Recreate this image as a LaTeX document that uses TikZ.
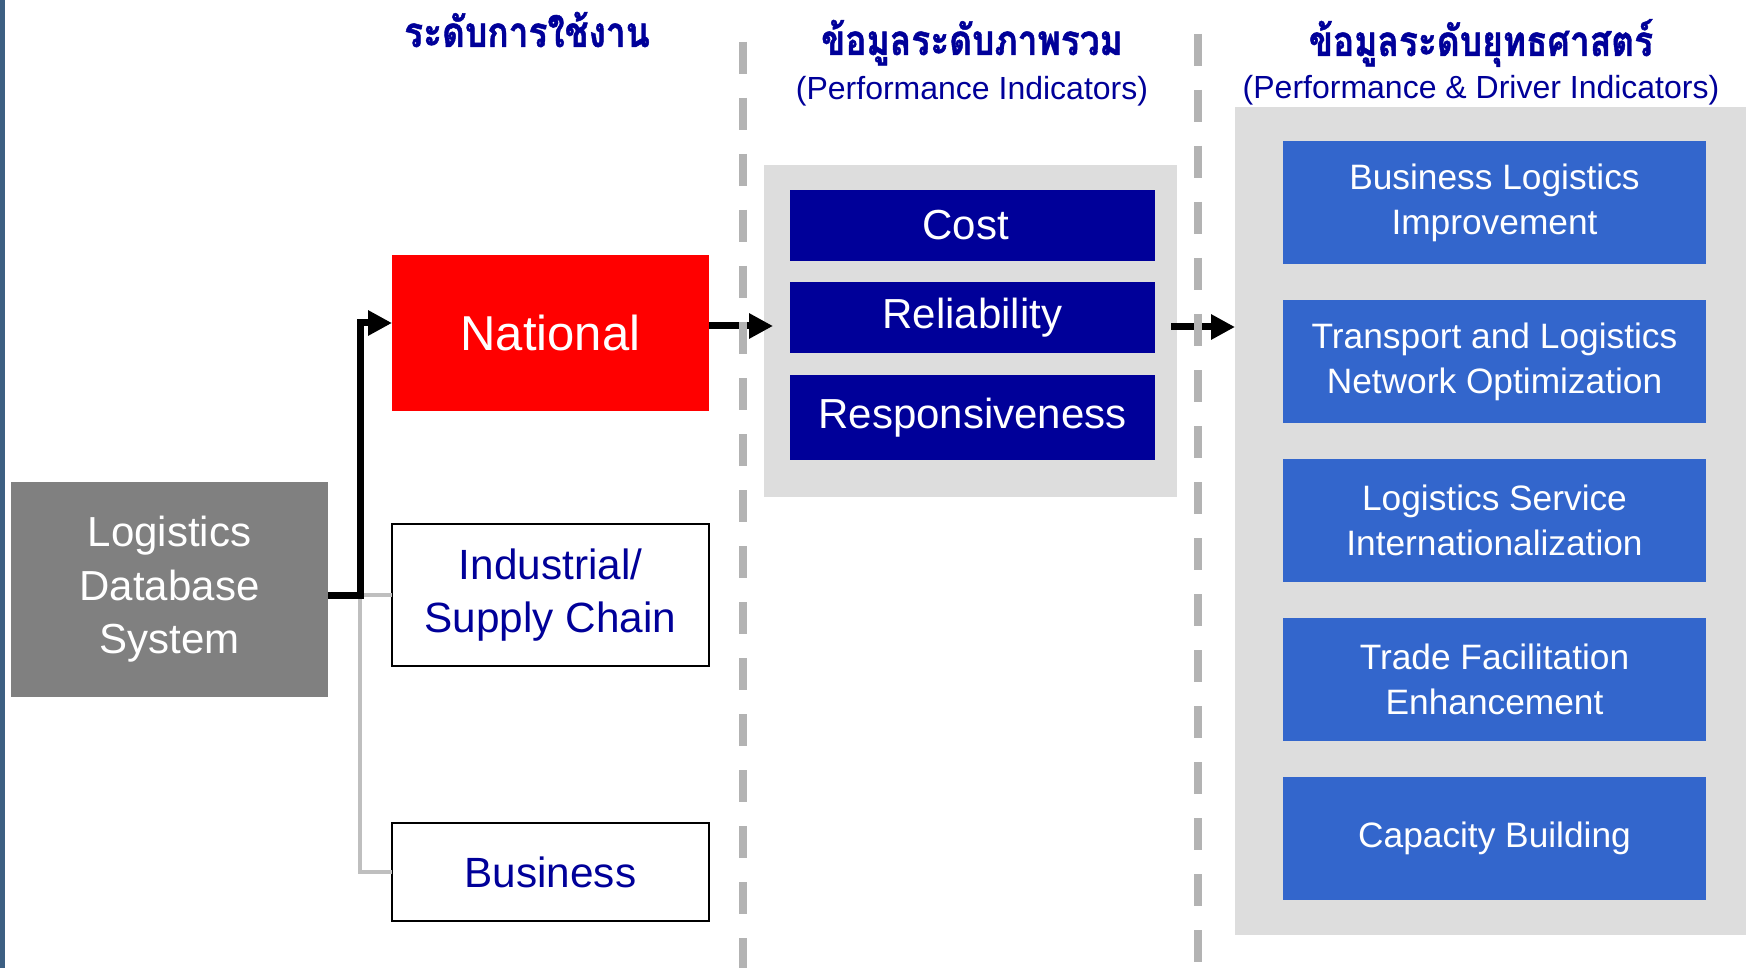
\documentclass[tikz,border=0pt]{standalone}
\usepackage{graphicx}
\usepackage{fontspec}
\setmainfont{Liberation Sans}
\newfontfamily\thaifont[Script=Thai, BoldFeatures={FakeBold=1.2}]{Loma}
\usetikzlibrary{arrows.meta,calc}

\definecolor{navy}{HTML}{000099}
\definecolor{panelgray}{HTML}{DDDDDD}
\definecolor{dbgray}{HTML}{808080}
\definecolor{boxblue}{HTML}{3366CC}
\definecolor{dashgray}{HTML}{B3B3B3}
\definecolor{linkgray}{HTML}{BFBFBF}
\definecolor{edgeblue}{HTML}{3C5F82}

% condensed heavy Thai heading
\newcommand{\thaihd}[1]{\scalebox{0.84}[1]{#1}}

\begin{document}
\begin{tikzpicture}[x=1pt,y=-1pt,
  box/.style={rectangle, inner sep=0pt, outer sep=0pt, align=center},
  dbbox/.style={box, fill=dbgray, text=white, minimum width=317pt, minimum height=215pt,
    font=\fontsize{42}{53.5}\selectfont},
  levelbox/.style={box, fill=white, draw=black, line width=1.5pt, text=navy,
    minimum width=317pt, font=\fontsize{42.3}{53.5}\selectfont},
  natbox/.style={box, fill=red, text=white, minimum width=317pt, minimum height=156pt,
    font=\fontsize{49}{56}\selectfont},
  panel/.style={box, fill=panelgray},
  kpibox/.style={box, fill=navy, text=white, minimum width=365pt,
    font=\fontsize{42}{50}\selectfont},
  drvbox/.style={box, fill=boxblue, text=white, minimum width=423pt, minimum height=123pt,
    font=\fontsize{35.3}{44.5}\selectfont},
  thaihead/.style={anchor=base, text=navy, font=\thaifont\bfseries\fontsize{42}{46}\selectfont},
  enghead/.style={anchor=base, text=navy, font=\fontsize{32}{38}\selectfont},
  thickarrow/.style={line width=7pt, -{Triangle[length=24pt,width=24pt]}},
  graylink/.style={line width=4pt, draw=linkgray},
  dashline/.style={line width=7.5pt, draw=dashgray, dash pattern=on 32pt off 24pt}
]
\useasboundingbox (0,0) rectangle (1746,968);
% page and left edge strip
\fill[white] (0,0) rectangle (1746,968);
\fill[edgeblue] (0,0) rectangle (5,968);

% column headings
\node[thaihead] (hUse) at (527,47) {\thaihd{ระดับการใช้งาน}};
\node[thaihead] (hOverall) at (972,55) {\thaihd{ข้อมูลระดับภาพรวม}};
\node[enghead] (hPI) at (972,100) {(Performance Indicators)};
\node[thaihead] (hStrat) at (1481,56) {\thaihd{ข้อมูลระดับยุทธศาสตร์}};
\node[enghead] (hPDI) at (1481,99) {(Performance \& Driver Indicators)};

% grey background panels
\node[panel, minimum width=413pt, minimum height=332pt] (midpanel) at (970.5,331) {};
\node[panel, minimum width=511pt, minimum height=828pt] (rightpanel) at (1490.5,521) {};

% source system and usage levels
\node[dbbox] (logistics) at (169.5,589.5) {Logistics\\Database\\System};
\node[natbox] (national) at (550.5,333) {National};
\node[levelbox, minimum height=142pt] (industrial) at (550.5,595) {Industrial/\\Supply Chain};
\node[levelbox, minimum height=98pt] (business) at (550.5,872) {Business};

% performance indicators
\node[kpibox, minimum height=71pt] (cost) at (972.5,225.5) {Cost\hspace*{14pt}};
\node[kpibox, minimum height=71pt] (reliability) at (972.5,317.5) {Reliability};
\node[kpibox, minimum height=85pt] (responsiveness) at (972.5,417.5) {Responsiveness};

% strategic driver indicators
\node[drvbox] (drv1) at (1494.5,203) {Business Logistics\\Improvement};
\node[drvbox] (drv2) at (1494.5,361.75) {Transport and Logistics\\Network Optimization};
\node[drvbox] (drv3) at (1494.5,520.5) {Logistics Service\\Internationalization};
\node[drvbox] (drv4) at (1494.5,679.25) {Trade Facilitation\\Enhancement};
\node[drvbox] (drv5) at (1494.5,838) {Capacity Building};

% branch connectors
\coordinate (jn) at (360,595);
\coordinate (jt) at (360,323);
\draw[graylink] (jn) -- (industrial.west);
\draw[graylink] (jn) |- (business.west);
\draw[thickarrow] (logistics.east |- jn) -- (jn) -- (jt) -- (jt -| national.west);
\draw[thickarrow, shorten >=-9pt] ([yshift=7pt]national.east) -- ([yshift=7pt]national.east -| midpanel.west);
\draw[thickarrow] ([xshift=-6pt,yshift=4pt]midpanel.east) -- ([yshift=4pt]midpanel.east -| rightpanel.west);

% column dividers
\coordinate (d1top) at (743,42);
\coordinate (d1bot) at (743,968);
\coordinate (d2top) at (1198,34);
\coordinate (d2bot) at (1198,968);
\draw[dashline] (d1top) -- (d1bot);
\draw[dashline] (d2top) -- (d2bot);
\end{tikzpicture}
\end{document}
